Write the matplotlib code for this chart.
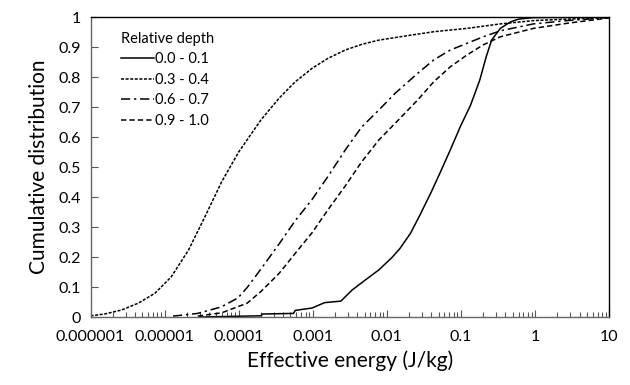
import matplotlib
matplotlib.use("Agg")
import matplotlib.pyplot as plt
from matplotlib.ticker import FixedLocator, FixedFormatter, LogLocator, NullFormatter

plt.rcParams['font.family'] = ['Lato', 'DejaVu Sans']

# values (energy in J/kg, cumulative fraction)
x_01 = [3.0e-5, 2.0e-4, 2.1e-4, 5.5e-4, 5.8e-4, 9.8e-4, 1.45e-3, 2.4e-3, 3.4e-3, 5.1e-3,
        7.8e-3, 1.17e-2, 1.5e-2, 2.1e-2, 2.8e-2, 3.9e-2, 5.2e-2, 7.2e-2, 9.8e-2, 0.135,
        0.18, 0.22, 0.26, 0.34, 0.47, 0.6, 0.95, 10]
y_01 = [0.0, 0.004, 0.01, 0.012, 0.022, 0.03, 0.048, 0.053, 0.09, 0.123,
        0.157, 0.198, 0.228, 0.28, 0.34, 0.412, 0.479, 0.557, 0.634, 0.706,
        0.79, 0.868, 0.923, 0.962, 0.984, 0.993, 0.998, 1.0]

x_34 = [1.0e-6, 1.55e-6, 2.6e-6, 4.4e-6, 7.4e-6, 1.23e-5, 2.1e-5, 3.5e-5, 5.9e-5, 1.0e-4,
        2.0e-4, 3.5e-4, 5.8e-4, 9.8e-4, 1.6e-3, 2.75e-3, 4.6e-3, 7.8e-3, 1.5e-2,
        4.3e-2, 0.12, 0.34, 0.95, 2.7, 10]
y_34 = [0.004, 0.01, 0.023, 0.046, 0.079, 0.134, 0.223, 0.334, 0.451, 0.55,
        0.657, 0.729, 0.784, 0.829, 0.862, 0.89, 0.909, 0.923, 0.934,
        0.951, 0.962, 0.977, 0.988, 0.993, 0.998]

x_67 = [1.3e-5, 2.8e-5, 5.9e-5, 9.8e-5, 1.3e-4, 2.0e-4, 3.5e-4, 5.8e-4, 9.8e-4, 1.6e-3,
        2.75e-3, 4.6e-3, 7.8e-3, 1.3e-2, 2.6e-2, 4.3e-2, 7.2e-2, 0.12, 0.2, 0.34,
        0.95, 2.7, 10]
y_67 = [0.003, 0.012, 0.034, 0.064, 0.098, 0.16, 0.243, 0.321, 0.392, 0.468,
        0.557, 0.634, 0.69, 0.746, 0.812, 0.857, 0.89, 0.912, 0.934, 0.954,
        0.977, 0.988, 0.998]

x_910 = [2.8e-5, 5.9e-5, 1.3e-4, 2.0e-4, 3.5e-4, 5.8e-4, 9.8e-4, 1.6e-3, 2.75e-3, 4.6e-3,
         7.8e-3, 1.3e-2, 2.6e-2, 4.3e-2, 7.2e-2, 0.12, 0.2, 0.34, 0.95, 2.7, 10]
y_910 = [0.003, 0.014, 0.046, 0.085, 0.145, 0.212, 0.281, 0.357, 0.437, 0.518,
         0.59, 0.646, 0.723, 0.784, 0.834, 0.873, 0.907, 0.934, 0.962, 0.979, 0.997]

x_ticks = [1e-6, 1e-5, 1e-4, 1e-3, 1e-2, 1e-1, 1, 10]
x_labels = ['0.000001', '0.00001', '0.0001', '0.001', '0.01', '0.1', '1', '10']
y_ticks = [0, 0.1, 0.2, 0.3, 0.4, 0.5, 0.6, 0.7, 0.8, 0.9, 1]
y_labels = ['0', '0.1', '0.2', '0.3', '0.4', '0.5', '0.6', '0.7', '0.8', '0.9', '1']

fig = plt.figure(figsize=(6.3, 3.85), dpi=100)
ax = fig.add_axes([0.1437, 0.1766, 0.8230, 0.7792])

lw = 1.1
ax.plot(x_01, y_01, color='black', lw=lw, linestyle='-', label='0.0 - 0.1')
ax.plot(x_34, y_34, color='black', lw=lw, linestyle=(0, (2, 1)), label='0.3 - 0.4')
ax.plot(x_67, y_67, color='black', lw=lw, linestyle=(0, (6, 2.5, 1.5, 2.5)), label='0.6 - 0.7')
ax.plot(x_910, y_910, color='black', lw=lw, linestyle=(0, (3.5, 2)), label='0.9 - 1.0')

ax.set_xscale('log')
ax.set_xlim(1e-6, 10)
ax.set_ylim(0, 1)

ax.xaxis.set_major_locator(FixedLocator(x_ticks))
ax.xaxis.set_major_formatter(FixedFormatter(x_labels))
ax.xaxis.set_minor_locator(LogLocator(base=10, subs=range(2, 10), numticks=20))
ax.xaxis.set_minor_formatter(NullFormatter())
ax.yaxis.set_major_locator(FixedLocator(y_ticks))
ax.yaxis.set_major_formatter(FixedFormatter(y_labels))

ax.tick_params(axis='both', which='major', direction='in', length=5, width=0.8,
               labelsize=11.5, color='#555555', pad=7)
ax.tick_params(axis='x', which='minor', direction='in', length=3.5, width=0.8, color='#555555')
ax.tick_params(axis='x', which='major', pad=9)

for side in ['left', 'bottom']:
    ax.spines[side].set_color('#666666')
for side in ['top', 'right']:
    ax.spines[side].set_color('black')
for s in ax.spines.values():
    s.set_linewidth(1.0)

ax.set_xlabel('Effective energy (J/kg)', fontsize=15, labelpad=5)
ax.set_ylabel('Cumulative distribution', fontsize=15, labelpad=7)

leg = ax.legend(title='Relative depth', loc='upper left', bbox_to_anchor=(0.04, 0.985),
                frameon=False, fontsize=10.5, title_fontsize=10.5, handlelength=2.2,
                handletextpad=0.1, labelspacing=0.45, alignment='left', borderpad=0.2)

fig.savefig('out.png', dpi=100)
